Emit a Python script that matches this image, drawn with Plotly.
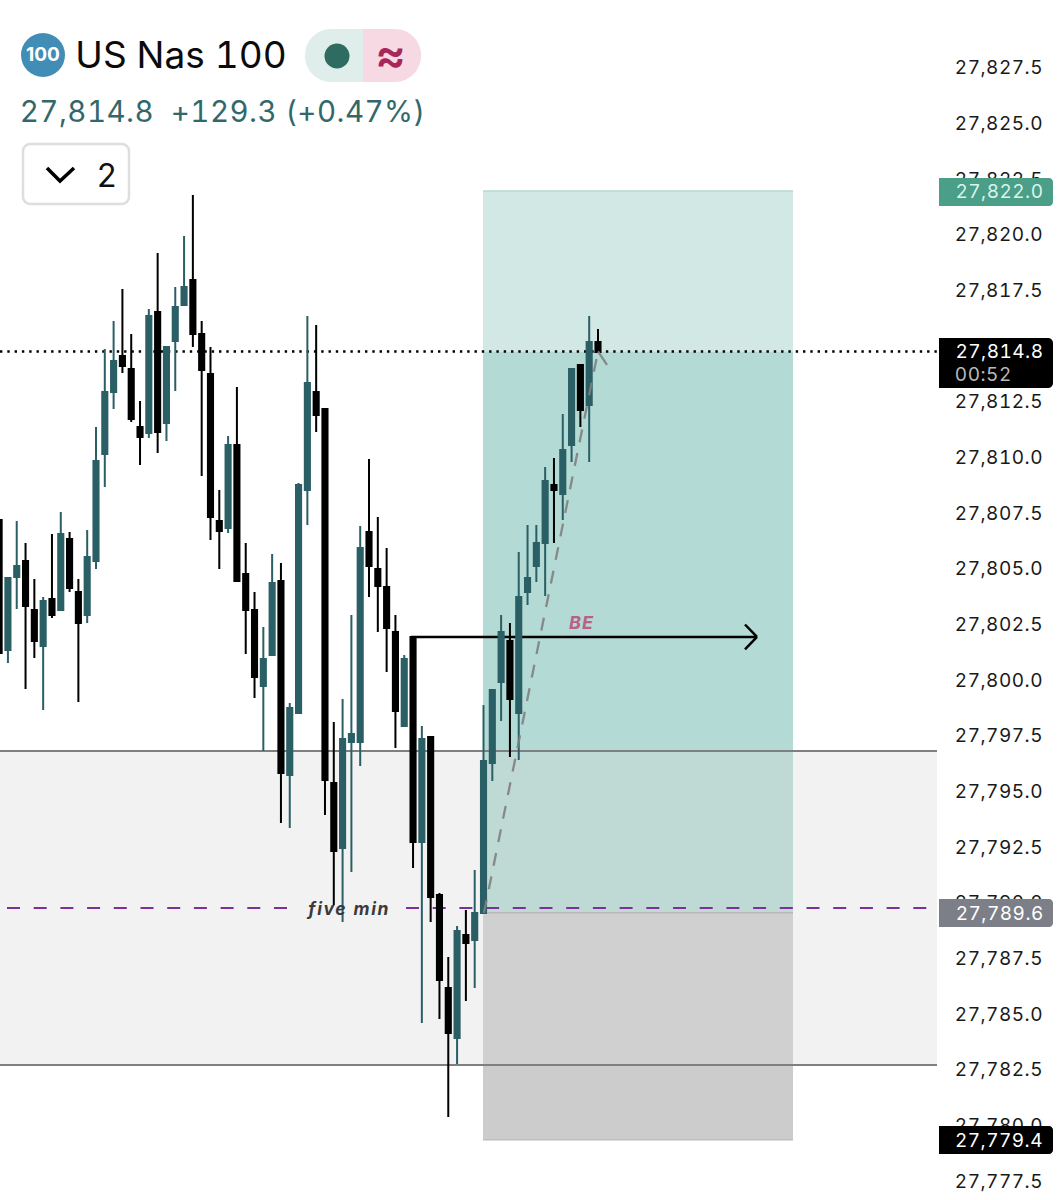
import plotly.graph_objects as go

W, H, RIGHT = 1062, 1200, 16
PW = W - RIGHT

# ---------- data ----------
directions = list("DUUDDUDUDD" "UUUUDDDUDU" "UUDDDDUDDD" "UUDUUUDDDU"
                  "UUDDDDUDUD" "DDUDUUUUDU" "UUUDUUDUD")
highs = [27807.23,27804.67,27807.19,27806.20,27804.58,27803.77,27806.60,27807.59,27806.69,27804.58,
         27806.78,27811.41,27814.91,27816.17,27817.60,27815.58,27812.58,27816.71,27819.22,27815.00,
         27817.69,27819.98,27821.82,27816.17,27815.00,27808.58,27811.00,27813.20,27806.20,27804.00,
         27802.43,27805.71,27805.30,27799.02,27808.89,27816.39,27815.99,27812.22,27798.16,27799.19,
         27802.97,27806.96,27809.97,27807.37,27805.97,27802.97,27801.17,27801.98,27797.98,27797.49,
         27790.48,27787.61,27789.00,27789.72,27791.52,27798.93,27799.60,27802.97,27802.61,27805.80,
         27807.01,27807.01,27809.61,27810.02,27811.99,27814.01,27814.19,27816.39,27815.81]
body_tops = [27807.23,27804.63,27805.17,27805.39,27803.19,27803.60,27803.68,27806.60,27806.38,27804.00,
         27805.57,27809.88,27812.98,27814.37,27814.60,27814.01,27811.41,27816.39,27816.57,27815.00,
         27816.80,27817.69,27818.01,27815.58,27813.79,27807.19,27810.60,27810.60,27804.81,27803.19,
         27800.99,27804.40,27804.49,27798.79,27808.80,27813.38,27812.98,27812.22,27795.42,27797.40,
         27797.62,27805.97,27806.69,27805.03,27804.22,27802.20,27800.99,27801.98,27797.40,27797.49,
         27790.39,27786.22,27788.78,27788.60,27789.59,27796.41,27799.60,27802.20,27801.80,27803.77,
         27804.63,27806.20,27808.98,27808.80,27810.37,27814.01,27814.19,27815.22,27815.22]
body_bottoms = [27801.26,27801.39,27804.67,27803.37,27801.80,27801.57,27802.97,27803.19,27804.18,27802.61,
         27802.97,27805.39,27810.20,27812.98,27814.15,27811.77,27810.96,27811.14,27811.18,27811.59,
         27815.27,27816.89,27815.58,27813.97,27807.37,27806.74,27806.87,27804.49,27803.19,27800.18,
         27799.78,27801.17,27795.87,27795.78,27798.57,27808.58,27811.95,27795.56,27792.37,27792.50,
         27797.26,27797.26,27805.17,27804.27,27802.38,27798.66,27797.98,27792.77,27792.77,27790.30,
         27786.58,27784.20,27783.97,27788.24,27788.37,27789.59,27796.32,27799.96,27799.19,27798.57,
         27804.00,27805.17,27806.20,27808.58,27808.40,27810.60,27812.17,27812.40,27814.78]
lows = [27801.26,27800.81,27803.24,27799.64,27801.04,27798.70,27802.83,27803.19,27804.00,27799.06,
         27802.61,27805.03,27808.71,27812.22,27813.83,27811.63,27809.70,27810.91,27810.24,27810.78,
         27813.02,27816.89,27815.00,27809.21,27806.33,27805.03,27806.65,27804.49,27801.22,27799.24,
         27796.86,27801.17,27793.63,27793.40,27798.52,27807.01,27811.18,27793.99,27789.95,27789.18,
         27791.43,27796.19,27803.77,27802.20,27800.41,27796.99,27797.98,27791.61,27784.65,27789.18,
         27784.83,27780.43,27782.81,27785.64,27786.22,27789.59,27795.51,27798.21,27796.59,27796.46,
         27803.42,27804.45,27803.82,27806.20,27807.23,27809.84,27811.41,27809.84,27814.78]

tick_values = [27827.5 - 2.5 * k for k in range(21)]
tick_labels = [f"{v:,.1f}" for v in tick_values]

last_price = 27814.8
entry_price = 27789.6
target_price = 27822.0
stop_price = 27779.4
zone_top = 27796.86
zone_bottom = 27782.76
five_min_level = 27789.81
be_level = 27801.98

# ---------- scales ----------
PX_PER_BAR = 8.807
X_OFF = -0.88
Y_TOP = 27830.58
Y_BOTTOM = 27776.70
def bx(px):      # image pixel -> bar index
    return (px - X_OFF) / PX_PER_BAR
def nx(px):
    return px / PW
def ny(py):
    return 1 - py / H

opens = [b if d == "U" else t for d, t, b in zip(directions, body_tops, body_bottoms)]
closes = [t if d == "U" else b for d, t, b in zip(directions, body_tops, body_bottoms)]
xs = list(range(len(directions)))

TEAL = "#2b5f66"
fig = go.Figure(go.Candlestick(
    x=xs, open=opens, high=highs, low=lows, close=closes, whiskerwidth=0,
    increasing=dict(line=dict(color=TEAL, width=2), fillcolor=TEAL),
    decreasing=dict(line=dict(color="#000000", width=2), fillcolor="#000000"),
    hoverinfo="skip", showlegend=False))

shapes = []
def rect(x0, x1, y0, y1, color, line=None):
    shapes.append(dict(type="rect", xref="x", yref="y", x0=x0, x1=x1, y0=y0, y1=y1,
                       fillcolor=color, line=dict(width=0), layer="below"))
def seg(x0, y0, x1, y1, color, width, dash="solid", layer="below"):
    shapes.append(dict(type="line", xref="x", yref="y", x0=x0, x1=x1, y0=y0, y1=y1,
                       line=dict(color=color, width=width, dash=dash), layer=layer))

pl, pr = bx(483), bx(793)
rect(pl, pr, last_price, target_price, "#d2e8e4")
rect(pl, pr, entry_price, last_price, "#b3dad4")
rect(pl, pr, stop_price, entry_price, "#cccccc")
seg(pl, target_price, pr, target_price, "#b4d8d0", 1.5)
seg(pl, entry_price, pr, entry_price, "#a9a9a9", 1.5)
seg(pl, stop_price, pr, stop_price, "#bdbdbd", 1.5)
# zone
rect(bx(0), bx(937), zone_bottom, zone_top, "rgba(215,215,215,0.33)")
seg(bx(0), zone_top, bx(937), zone_top, "#7f7f7f", 2)
seg(bx(0), zone_bottom, bx(937), zone_bottom, "#7f7f7f", 2)
# dotted price line
seg(bx(0), last_price, bx(939), last_price, "#000000", 2.4, "2.4px,4.9px")
# five-min line
seg(bx(7), five_min_level, bx(296), five_min_level, "#7d2f9d", 2.2, "13px,13.7px")
seg(bx(406), five_min_level, bx(939), five_min_level, "#7d2f9d", 2.2, "13px,13.7px")
# BE arrow
seg(bx(411), be_level, bx(757), be_level, "#000000", 2.5)
seg(bx(757), be_level, bx(745), be_level + 0.56, "#000000", 2.5)
seg(bx(757), be_level, bx(745), be_level - 0.56, "#000000", 2.5)
# dashed projected path
seg(bx(484), entry_price, bx(598), last_price, "rgba(128,128,128,0.9)", 2.3, "13px,11px", "above")
seg(bx(598), last_price, bx(607), last_price - 0.6, "rgba(128,128,128,0.9)", 2.3, "solid", "above")

# ---------- header + tags in page coordinates ----------
K = 0.45
def round_rect(x0, y0, x1, y1, rl, rr, fill, line=None, lw=0, layer="above"):
    p = (f"M {nx(x0+rl)} {ny(y0)} L {nx(x1-rr)} {ny(y0)} "
         f"C {nx(x1-rr*K)} {ny(y0)} {nx(x1)} {ny(y0+rr*K)} {nx(x1)} {ny(y0+rr)} "
         f"L {nx(x1)} {ny(y1-rr)} "
         f"C {nx(x1)} {ny(y1-rr*K)} {nx(x1-rr*K)} {ny(y1)} {nx(x1-rr)} {ny(y1)} "
         f"L {nx(x0+rl)} {ny(y1)} "
         f"C {nx(x0+rl*K)} {ny(y1)} {nx(x0)} {ny(y1-rl*K)} {nx(x0)} {ny(y1-rl)} "
         f"L {nx(x0)} {ny(y0+rl)} "
         f"C {nx(x0)} {ny(y0+rl*K)} {nx(x0+rl*K)} {ny(y0)} {nx(x0+rl)} {ny(y0)} Z")
    shapes.append(dict(type="path", xref="paper", yref="paper", path=p, fillcolor=fill,
                       line=dict(color=line or fill, width=lw), layer=layer))
def circle(cx, cy, r, fill):
    shapes.append(dict(type="circle", xref="paper", yref="paper", x0=nx(cx-r), x1=nx(cx+r),
                       y0=ny(cy+r), y1=ny(cy-r), fillcolor=fill, line=dict(width=0), layer="above"))

circle(43, 55, 22, "#418db6")
round_rect(305, 29, 375, 82, 26, 0, "#dfeeeb")
round_rect(363, 29, 421, 82, 0, 26, "#f6d9e3")
circle(337, 56, 12.5, "#2e6b60")
round_rect(23, 144, 129, 204, 7, 7, "#ffffff", "#dedede", 2.5)
shapes.append(dict(type="path", xref="paper", yref="paper", line=dict(color="#000000", width=3.5),
                   path=f"M {nx(47)} {ny(168)} L {nx(60)} {ny(181)} L {nx(74)} {ny(168)}", layer="above"))
# price tags
round_rect(939, 178, 1053, 206, 0, 4, "#4b9e87")
round_rect(939, 338, 1053, 388, 0, 5, "#000000")
round_rect(939, 899, 1053, 927, 0, 4, "#7c7f87")
round_rect(939, 1126, 1053, 1154, 0, 4, "#000000")

FONT = "Inter"
def txt(px, py, s, size, color, anchor="center", weight=None, family=FONT, style=None):
    f = dict(family=family, size=size, color=color)
    if weight: f["weight"] = weight
    if style: f["style"] = style
    return dict(xref="paper", yref="paper", x=nx(px), y=ny(py), text=s, showarrow=False,
                xanchor=anchor, yanchor="middle", font=f, borderpad=0, borderwidth=0)

annotations = [
    txt(43, 55, "100", 19, "#ffffff", weight=700),
    txt(180.5, 55, "US Nas 100", 37, "#0b0b0b"),
    txt(390, 54, "≈", 46, "#a8275a", weight=600),
    txt(222, 111, "27,814.8  +129.3 (+0.47%)", 29.5, "#33686a"),
    txt(107, 175, "2", 32, "#111111"),
    txt(999, 191, "27,822.0", 19, "#d8f5ea"),
    txt(999, 351, "27,814.8", 19, "#ffffff"),
    txt(983.5, 374, "00:52", 19, "#b8b8b8"),
    txt(999, 913, "27,789.6", 19, "#ffffff"),
    txt(999, 1140, "27,779.4", 19, "#ffffff"),
    txt(582, 622, "BE", 18, "#bb5f88", weight=700, style="italic"),
    txt(348, 909, "five min", 17.5, "#3a3a3e", weight=700, style="italic"),
]

fig.update_layout(
    width=W, height=H, margin=dict(l=0, r=RIGHT, t=0, b=0),
    paper_bgcolor="#ffffff", plot_bgcolor="#ffffff",
    shapes=shapes, annotations=annotations, showlegend=False,
    boxgap=0.42, boxgroupgap=0,
    xaxis=dict(visible=False, range=[bx(0), bx(PW)], rangeslider=dict(visible=False), fixedrange=True),
    yaxis=dict(range=[Y_BOTTOM, Y_TOP], side="right", ticklabelposition="inside",
               tickmode="array", tickvals=tick_values, ticktext=tick_labels,
               showgrid=False, zeroline=False, showline=False, ticks="", fixedrange=True,
               tickfont=dict(family=FONT, size=19, color="#1a1a1a")),
)
post = """
document.body.style.margin='0';
function spacing(){
  var s={'US Nas 100':'0px','27,814.8  +129.3 (+0.47%)':'0.45px','BE':'1px','five min':'1.6px',
         '27,822.0':'0.5px','27,814.8':'0.5px','00:52':'0.5px','27,789.6':'0.5px','27,779.4':'0.5px'};
  document.querySelectorAll('.annotation-text').forEach(function(e){
    var k=e.textContent; if(s[k]){e.style.letterSpacing=s[k]; e.style.fontVariantNumeric='tabular-nums';}
    if(k==='100'){e.style.fontVariantNumeric='normal';}
  });
  document.querySelectorAll('.ytick text').forEach(function(e){
    e.style.letterSpacing='0.5px'; e.style.fontVariantNumeric='tabular-nums';
    if(!e.dataset.moved){e.setAttribute('y',parseFloat(e.getAttribute('y')||0)-1); e.dataset.moved='1';}
  });
}
spacing(); setTimeout(spacing,100);
"""
fig.write_html("out.html", config=dict(displayModeBar=False), post_script=post)
